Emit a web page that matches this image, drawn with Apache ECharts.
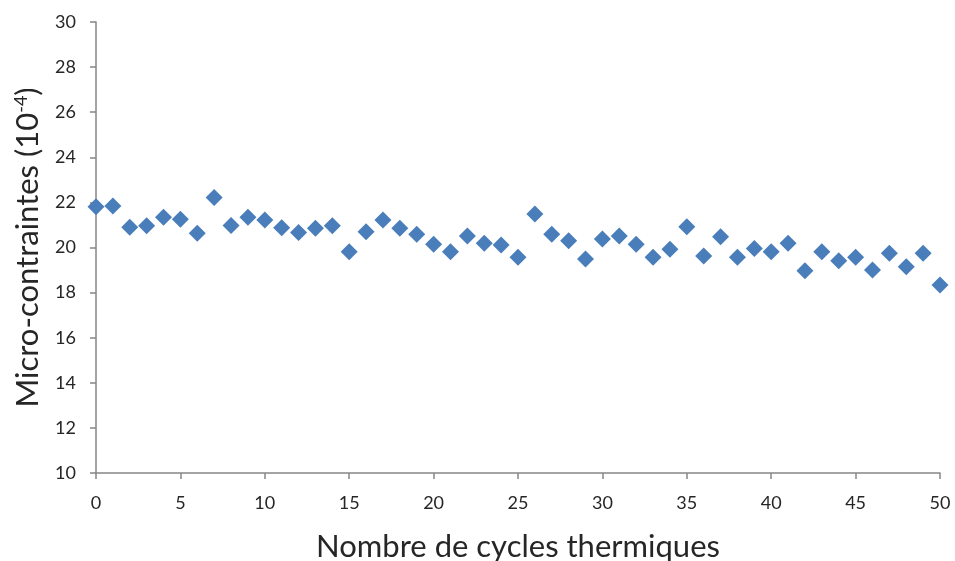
<!DOCTYPE html>
<html>
<head>
<meta charset="utf-8">
<script src="https://cdn.jsdelivr.net/npm/echarts@6/dist/echarts.min.js"></script>
<style>
  html, body { margin: 0; padding: 0; background: #fff; }
  #chart { width: 955px; height: 561px; }
</style>
</head>
<body>
<div id="chart"></div>
<script>
// Thermal cycle number (0..50)
const cycles = [0,1,2,3,4,5,6,7,8,9,10,11,12,13,14,15,16,17,18,19,20,
  21,22,23,24,25,26,27,28,29,30,31,32,33,34,35,36,37,38,39,40,
  41,42,43,44,45,46,47,48,49,50];

// Micro-strain values (x 10^-4)
const microStrain = [21.81,21.84,20.90,20.97,21.34,21.25,20.63,22.22,20.98,21.34,21.22,
  20.88,20.66,20.85,20.97,19.81,20.70,21.22,20.85,20.59,20.14,
  19.81,20.51,20.19,20.11,19.57,21.49,20.59,20.30,19.49,20.38,
  20.51,20.14,19.57,19.92,20.92,19.62,20.48,19.57,19.96,19.81,
  20.19,18.97,19.81,19.41,19.57,19.00,19.74,19.15,19.74,18.34];

const xTitle = 'Nombre de cycles thermiques';
const yTitle = 'Micro-contraintes (10{sup|-4})';

const points = cycles.map((c, i) => [c, microStrain[i]]);

const axisGray = '#868686';
const textColor = '#262626';
const fontFam = 'Lato, "Open Sans", sans-serif';

const chart = echarts.init(document.getElementById('chart'));
chart.setOption({
  animation: false,
  backgroundColor: '#ffffff',
  grid: { left: 96, right: 15, top: 22, bottom: 88, containLabel: false, outerBoundsMode: 'none' },
  xAxis: {
    type: 'value', min: 0, max: 50, interval: 5,
    name: xTitle, nameLocation: 'middle', nameGap: 58,
    nameTextStyle: { fontSize: 31, color: textColor, fontFamily: fontFam },
    axisLine: { show: true, lineStyle: { color: axisGray, width: 1.5 } },
    axisTick: { show: true, length: 6, lineStyle: { color: axisGray, width: 1.5 } },
    axisLabel: { fontSize: 18, color: textColor, margin: 21, fontFamily: fontFam },
    splitLine: { show: false }
  },
  yAxis: {
    type: 'value', min: 10, max: 30, interval: 2,
    name: yTitle, nameLocation: 'middle', nameGap: 52, nameRotate: 90,
    nameTextStyle: {
      fontSize: 31, color: textColor, fontFamily: fontFam,
      rich: { sup: { fontSize: 18, verticalAlign: 'top', padding: [0, 0, 14, 0], color: textColor, fontFamily: fontFam } }
    },
    axisLine: { show: true, lineStyle: { color: axisGray, width: 1.5 } },
    axisTick: { show: true, length: 6, lineStyle: { color: axisGray, width: 1.5 } },
    axisLabel: { fontSize: 18, color: textColor, margin: 20, fontFamily: fontFam },
    splitLine: { show: false }
  },
  series: [{
    type: 'scatter',
    data: points,
    symbol: 'diamond',
    symbolSize: 17,
    itemStyle: { color: '#4a7ebb', opacity: 1 }
  }]
});
</script>
</body>
</html>
